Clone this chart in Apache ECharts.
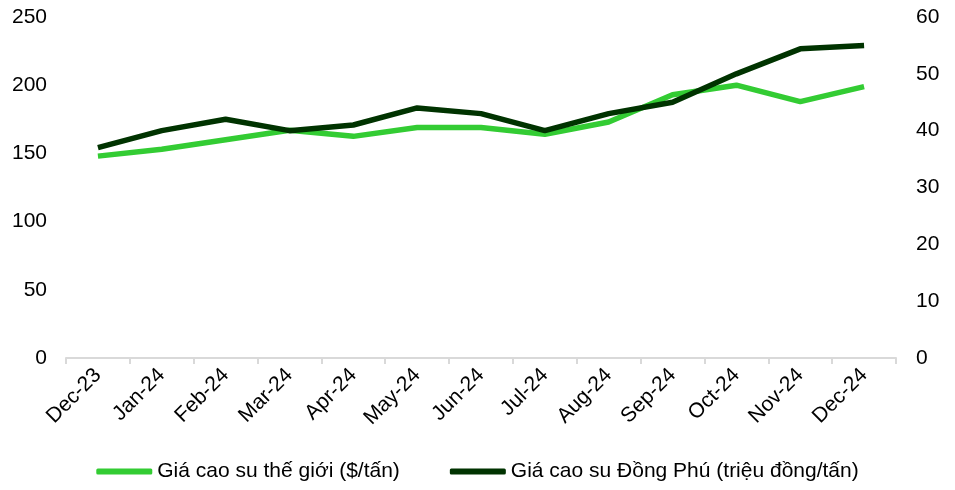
<!DOCTYPE html>
<html>
<head>
<meta charset="utf-8">
<script src="https://cdn.jsdelivr.net/npm/echarts@6/dist/echarts.min.js"></script>
<style>
  html, body { margin: 0; padding: 0; background: #fff; }
  #chart { width: 955px; height: 490px; }
</style>
</head>
<body>
<div id="chart"></div>
<script>
const months = ['Dec-23', 'Jan-24', 'Feb-24', 'Mar-24', 'Apr-24', 'May-24', 'Jun-24',
  'Jul-24', 'Aug-24', 'Sep-24', 'Oct-24', 'Nov-24', 'Dec-24']
const worldPrice = [148, 153, 160, 167, 162.5, 169, 169, 164, 173, 193, 200, 188, 199]
const dongPhuPrice = [37, 40, 42, 40, 41, 44, 43, 40, 43, 45, 50, 54.4, 55]

const font = 'Liberation Sans, Arial, sans-serif'
const chart = echarts.init(document.getElementById('chart'))

const option = {
  animation: false,
  textStyle: { fontFamily: font },
  grid: { left: 66, right: 59, top: 17, bottom: 132 },
  legend: {
    bottom: 3,
    left: 'center',
    itemWidth: 56,
    itemHeight: 6,
    itemGap: 50,
    icon: 'roundRect',
    textStyle: { fontSize: 21, color: '#000', fontFamily: font },
    data: ['Giá cao su thế giới ($/tấn)', 'Giá cao su Đồng Phú (triệu đồng/tấn)']
  },
  xAxis: {
    type: 'category',
    data: months,
    boundaryGap: true,
    axisLine: { lineStyle: { color: '#d9d9d9', width: 2 } },
    axisTick: { show: true, length: 6, lineStyle: { color: '#d9d9d9', width: 2 } },
    axisLabel: { rotate: 45, fontSize: 21, color: '#000', margin: 14, fontFamily: font }
  },
  yAxis: [
    {
      type: 'value',
      min: 0,
      max: 250,
      interval: 50,
      splitLine: { show: false },
      axisLine: { show: false },
      axisTick: { show: false },
      axisLabel: { fontSize: 21, color: '#000', margin: 19, fontFamily: font }
    },
    {
      type: 'value',
      min: 0,
      max: 60,
      interval: 10,
      splitLine: { show: false },
      axisLine: { show: false },
      axisTick: { show: false },
      axisLabel: { fontSize: 21, color: '#000', margin: 20, fontFamily: font }
    }
  ],
  series: [
    {
      name: 'Giá cao su thế giới ($/tấn)',
      type: 'line',
      yAxisIndex: 0,
      data: worldPrice,
      symbol: 'none',
      lineStyle: { color: '#33cc33', width: 5.5 },
      itemStyle: { color: '#33cc33' }
    },
    {
      name: 'Giá cao su Đồng Phú (triệu đồng/tấn)',
      type: 'line',
      yAxisIndex: 1,
      data: dongPhuPrice,
      symbol: 'none',
      lineStyle: { color: '#003300', width: 5.5 },
      itemStyle: { color: '#003300' }
    }
  ]
}

chart.setOption(option)

window.addEventListener('resize', () => {
  chart.resize()
})
</script>
</body>
</html>
